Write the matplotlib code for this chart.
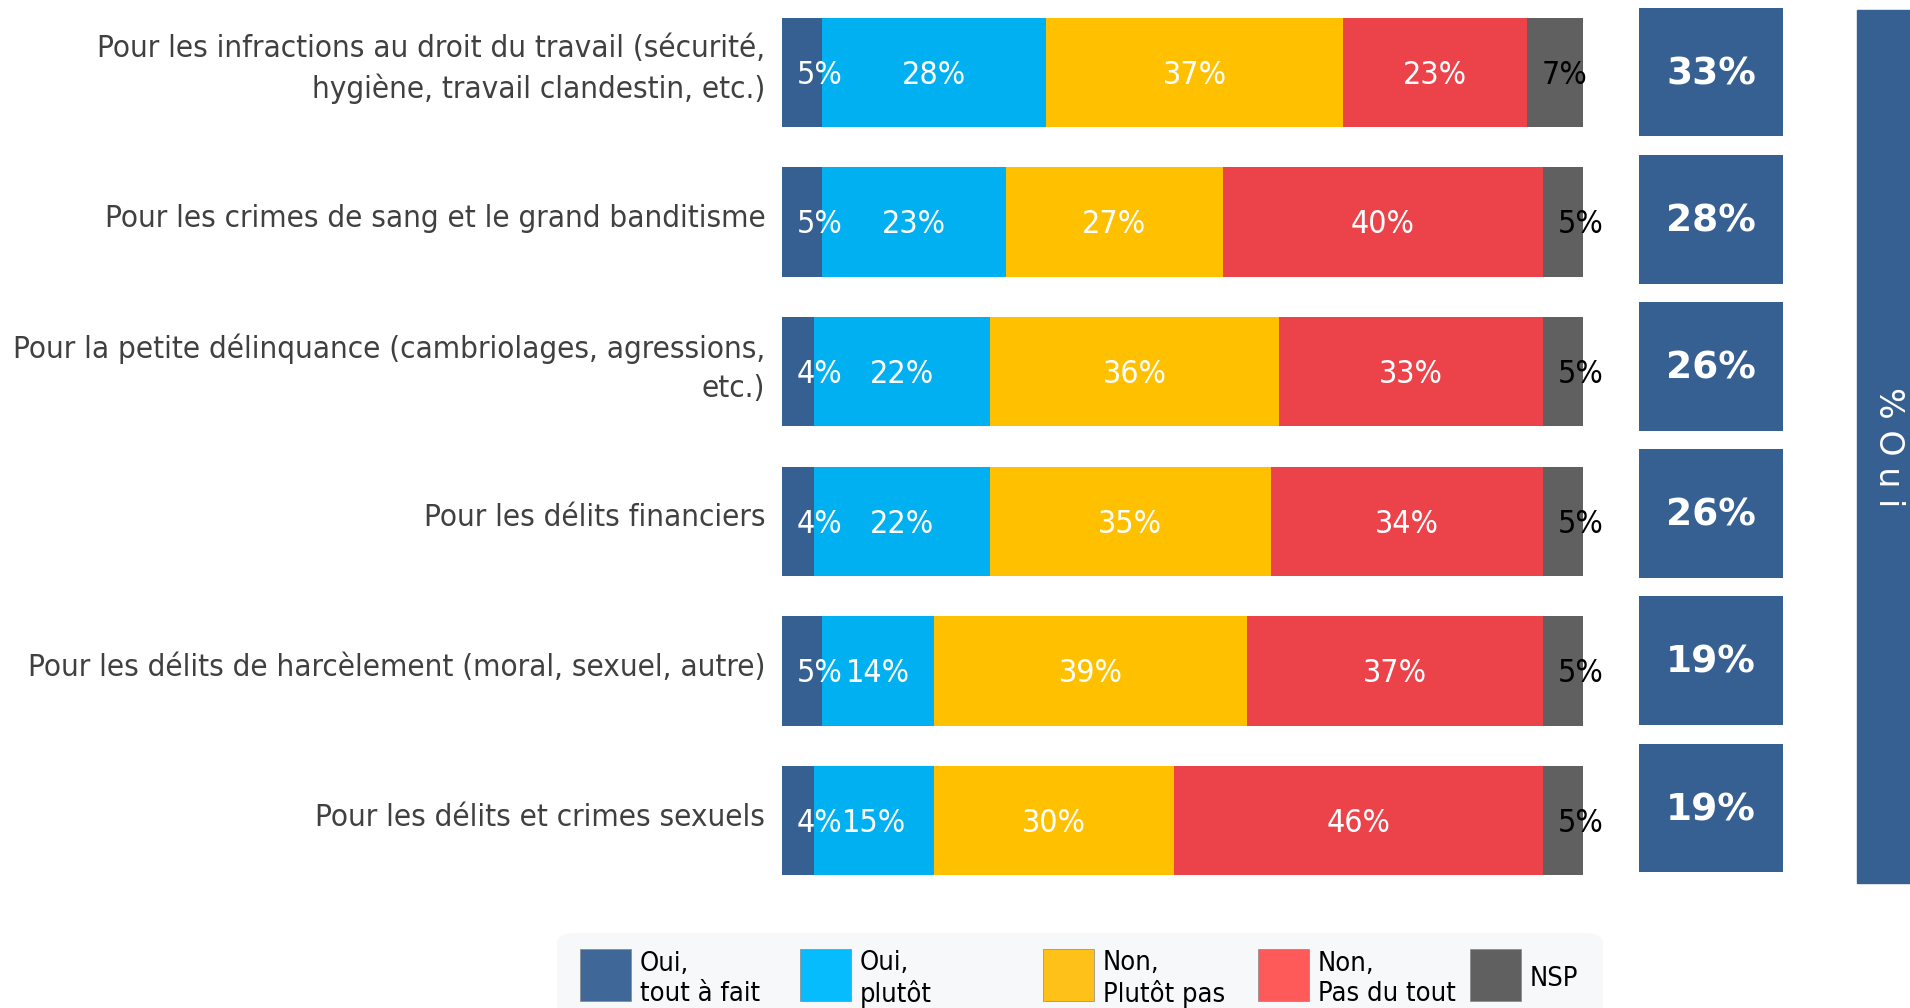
import matplotlib
matplotlib.use("Agg")
import matplotlib.pyplot as plt
from matplotlib.patches import Rectangle, FancyBboxPatch, Circle

# data
categories = [
    "Pour les infractions au droit du travail (sécurité,\nhygiène, travail clandestin, etc.)",
    "Pour les crimes de sang et le grand banditisme",
    "Pour la petite délinquance (cambriolages, agressions,\netc.)",
    "Pour les délits financiers",
    "Pour les délits de harcèlement (moral, sexuel, autre)",
    "Pour les délits et crimes sexuels",
]
oui_tout = [5, 5, 4, 4, 5, 4]
oui_plutot = [28, 23, 22, 22, 14, 15]
non_plutot = [37, 27, 36, 35, 39, 30]
non_pas = [23, 40, 33, 34, 37, 46]
nsp = [7, 5, 5, 5, 5, 5]
total_oui = [33, 28, 26, 26, 19, 19]

series = [oui_tout, oui_plutot, non_plutot, non_pas, nsp]
legend_labels = ["Oui,\ntout à fait", "Oui,\nplutôt", "Non,\nPlutôt pas", "Non,\nPas du tout", "NSP"]
bar_colors = ["#376092", "#00B0F0", "#FFC000", "#EC434A", "#606060"]
legend_colors = ["#3F6899", "#06BCFC", "#FEC11A", "#FF5A5A", "#606060"]
text_colors = ["white", "white", "white", "white", "black"]

W, H = 1910, 1008
narrow = dict(family="DejaVu Sans", fontstretch="condensed")

fig = plt.figure(figsize=(W / 100, H / 100), dpi=100)


def fx(x):
    return x / W


def fy(y):
    return 1 - y / H


# bars axes, rows centred at 72.5 ... 820.5 px
pitch = 149.6
top = 72.5 - pitch / 2
bottom = 820.5 + pitch / 2
ax = fig.add_axes([fx(782), fy(bottom), fx(1583) - fx(782), fy(top) - fy(bottom)])
n = len(categories)
ypos = list(range(n))
left = [0] * n
for vals, col, tcol in zip(series, bar_colors, text_colors):
    ax.barh(ypos, vals, left=left, height=0.73, color=col, edgecolor="none")
    for i, v in enumerate(vals):
        if v < 8:
            ax.annotate(f"{v}%", (left[i], i), xytext=(10.5, -2), textcoords="offset points",
                        ha="left", va="center", color=tcol, fontsize=23, **narrow)
        else:
            ax.annotate(f"{v}%", (left[i] + v / 2, i), xytext=(0, -2), textcoords="offset points",
                        ha="center", va="center", color=tcol, fontsize=23, **narrow)
    left = [l + v for l, v in zip(left, vals)]

# category labels
for i, lab in enumerate(categories):
    ax.annotate(lab, (0, i), xytext=(-12, 2.5), textcoords="offset points",
                ha="right", va="center", fontsize=22.5, color="#404040",
                linespacing=1.42, annotation_clip=False, **narrow)

ax.set_xlim(0, 100)
ax.set_ylim(n - 0.5, -0.5)
ax.axis("off")

# total "Oui" boxes, their own row spacing
bpitch = 147.2
btop = 72 - bpitch / 2
bbottom = 808 + bpitch / 2
ax2 = fig.add_axes([fx(1639), fy(bbottom), fx(1783) - fx(1639), fy(btop) - fy(bbottom)])
ax2.barh(ypos, [1] * n, height=0.876, color="#376092", edgecolor="none")
for i, v in enumerate(total_oui):
    ax2.annotate(f"{v}%", (0.5, i), xytext=(0, -1.5), textcoords="offset points",
                 ha="center", va="center", color="white",
                 fontsize=27, fontweight="bold", family="DejaVu Sans")
ax2.set_xlim(0, 1)
ax2.set_ylim(n - 0.5, -0.5)
ax2.axis("off")

# vertical "% Oui" band
fig.patches.append(Rectangle((fx(1857), fy(883)), fx(60), fy(10) - fy(883),
                             transform=fig.transFigure, color="#376092", zorder=0))
fig.text(fx(1888), fy(447), "% O u i", rotation=-90, ha="center", va="center",
         color="white", fontsize=24)

# legend
fig.patches.append(FancyBboxPatch((fx(557), fy(1030)), fx(1603) - fx(557), fy(933) - fy(1030),
                                  boxstyle="round,pad=0,rounding_size=0.01",
                                  transform=fig.transFigure, facecolor="#F7F8FA",
                                  edgecolor="none", zorder=0))
sq_x = [580, 800, 1043, 1258, 1470]
for x0, col, lab in zip(sq_x, legend_colors, legend_labels):
    fig.patches.append(Rectangle((fx(x0), fy(1001)), fx(51), fy(949) - fy(1001),
                                 transform=fig.transFigure, facecolor=col,
                                 edgecolor="#888888", linewidth=0.5, zorder=1))
    fig.text(fx(x0 + 60), fy(979), lab, ha="left", va="center", fontsize=19.5,
             color="black", linespacing=1.2, **narrow)

# red logo corner
fig.patches.append(Circle((fx(-25), fy(1075)), 105 / W, transform=fig.transFigure,
                          facecolor="#D7001E", edgecolor="white", linewidth=3))

fig.savefig("out.png", dpi=100)
